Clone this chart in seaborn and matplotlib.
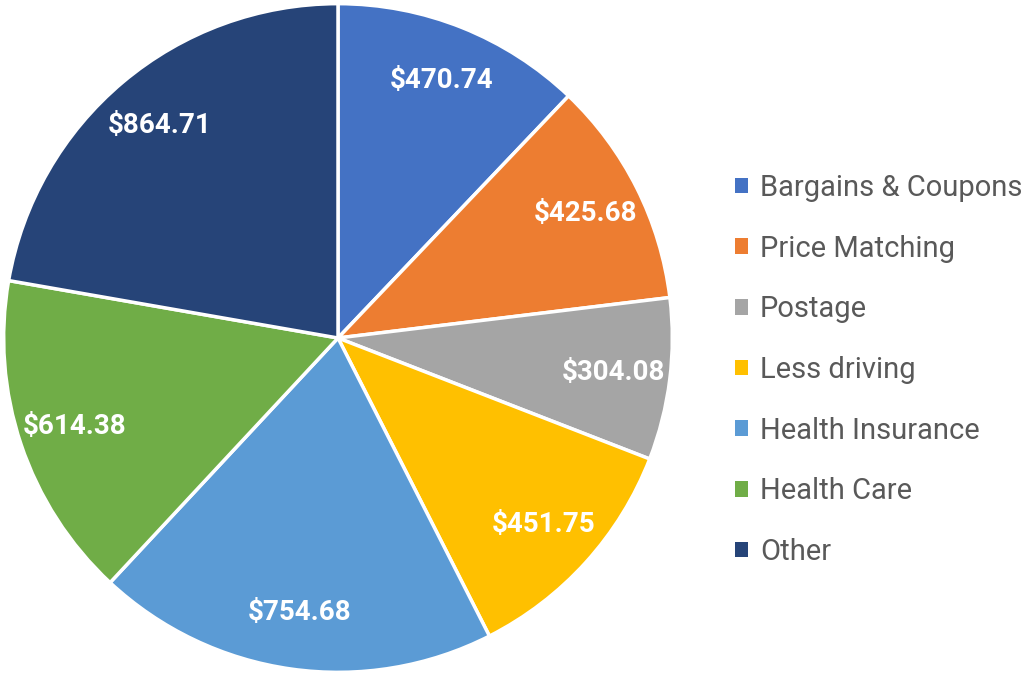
import matplotlib
matplotlib.use('Agg')
import matplotlib.pyplot as plt
import seaborn as sns
from matplotlib.patches import Patch

categories = ['Bargains & Coupons', 'Price Matching', 'Postage', 'Less driving',
              'Health Insurance', 'Health Care', 'Other']
savings = [470.74, 425.68, 304.08, 451.75, 754.68, 614.38, 864.71]
colors = ['#4472C4', '#ED7D31', '#A5A5A5', '#FFC000', '#5B9BD5', '#70AD47', '#264478']

sns.set_theme(style='white')
plt.rcParams['font.family'] = ['Roboto', 'DejaVu Sans']

fig = plt.figure(figsize=(10.25, 6.78), dpi=100)
ax = fig.add_axes([2 / 1025, 4 / 678, 672 / 1025, 672 / 678])

wedges, texts = ax.pie(
    savings,
    labels=['${:.2f}'.format(v) for v in savings],
    colors=colors,
    startangle=90,
    counterclock=False,
    labeldistance=0.83,
    wedgeprops=dict(edgecolor='white', linewidth=2.5),
    textprops=dict(color='white', fontsize=20, fontweight='bold'),
)
for t in texts:
    t.set_ha('center')
    t.set_va('center')
ax.set_xlim(-1.005, 1.005)
ax.set_ylim(-1.005, 1.005)
ax.set_aspect('equal')

handles = [Patch(facecolor=c, edgecolor='none') for c in colors]
leg = fig.legend(handles, categories, loc='center left',
                 bbox_to_anchor=(709 / 1025, 1 - 370 / 678),
                 frameon=False, fontsize=21, labelspacing=1.12,
                 handlelength=0.45, handleheight=0.45, handletextpad=0.4)
for t in leg.get_texts():
    t.set_color('#595959')

fig.savefig('out.png', dpi=100)
